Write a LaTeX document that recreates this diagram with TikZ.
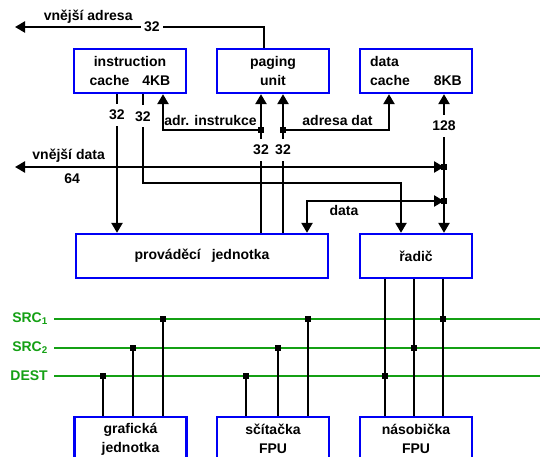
\documentclass[tikz,border=0pt]{standalone}
\usepackage{fontspec}
\setmainfont{Liberation Sans}
\usepackage{tikz}
\usetikzlibrary{arrows.meta,positioning}
\definecolor{busgreen}{RGB}{20,160,20}
\definecolor{boxblue}{RGB}{0,0,245}

\begin{document}
\begin{tikzpicture}[x=1pt,y=-1pt,font=\fontsize{14}{19}\selectfont\bfseries,
        unit/.style={draw=boxblue,line width=2.3pt,fill=white,minimum width=112pt,minimum height=44pt,align=center,inner sep=0pt},
        wire/.style={line width=2.3pt},
        bus/.style={draw=busgreen,line width=2.3pt},
        tip/.style={-{Triangle[length=10pt,width=11pt]}},
        twoway/.style={{Triangle[length=10pt,width=11pt]}-{Triangle[length=10pt,width=11pt]}},
        lbl/.style={fill=white,inner xsep=3pt,inner ysep=6pt},
        buslbl/.style={text=busgreen,inner sep=0pt},
        dot/.style={fill=black,inner sep=0pt,minimum size=5.5pt}]
      \clip (0,0) rectangle (540,457);
      \node[unit] (icache) at (130,71) {instruction\\cache\hspace{13pt}4KB};
      \node[unit] (paging) at (273,71) {paging\\unit};
      \node[unit,align=left] (dcache) at (416,71) {data\\cache\hspace{24pt}8KB};
      \node[unit,minimum width=252pt] (exec) at (202,256) {prováděcí\hspace{11pt}jednotka};
      \node[unit] (ctrl) at (416,256) {řadič};
      \node[unit] (gfx) at (130.5,439) {grafická\\jednotka};
      \node[unit] (fadd) at (273,439) {sčítačka\\FPU};
      \node[unit] (fmul) at (416,439) {násobička\\FPU};
      \coordinate (extA) at (15,27);
      \coordinate (extD) at (15,167);
      \coordinate (rim) at (545,0);
      \coordinate (icA) at ([xshift=-13pt]icache.south);
      \coordinate (icB) at ([xshift=13pt]icache.south);
      \coordinate (dcW) at ([xshift=28pt]dcache.south);
      \node[dot] (jI) at (261,130) {};
      \node[dot] (jD) at (283,130) {};
      \node[dot] (jE) at (444,167) {};
      \node[dot] (jF) at (444,201) {};
      \draw[wire,tip] ([xshift=-9pt]paging.north) |- (extA)
        node[lbl,pos=.725] (wA) {32} node[above=-1pt,pos=.853] (extAlbl) {vnější adresa};
      \draw[wire,tip] (icA) -- (icA |- exec.north) node[lbl,pos=.15] (wI1) {32};
      \draw[wire,tip] (icB) -- node[lbl,pos=.25] (wI2) {32} ++(0,89) -| ([xshift=-15pt]ctrl.north);
      \draw[wire,tip] (jI |- exec.north) -- (jI |- paging.south) node[lbl,pos=.6] (wP1) {32};
      \draw[wire,tip] (jD |- exec.north) -- (jD |- paging.south) node[lbl,pos=.6] (wP2) {32};
      \draw[wire,tip] (jI) -| ([xshift=33pt]icache.south) node[above,pos=.25] (adrI) {adr. instrukce};
      \draw[wire,tip] (jD) -| ([xshift=-27pt]dcache.south) node[above,pos=.25] (adrD) {adresa dat};
      \draw[wire,twoway] (dcW) -- (dcW |- ctrl.north) node[lbl,pos=.23] (w128) {128};
      \draw[wire,twoway] (extD) -- (jE.center)
        node[above,pos=.125] (extDlbl) {vnější data} node[below=2pt,pos=.133] (w64) {64};
      \draw[wire,twoway] ([xshift=105pt]exec.north) |- (jF.center) node[below,pos=.635] (dlbl) {data};
      \coordinate (b1) at (54,319);
      \coordinate (b2) at (54,348);
      \coordinate (b3) at (54,376);
      \draw[bus] (b1) -- (b1 -| rim);
      \draw[bus] (b2) -- (b2 -| rim);
      \draw[bus] (b3) -- (b3 -| rim);
      \node[buslbl,left=6pt of b1] (src1) {SRC\textsubscript{1}};
      \node[buslbl,left=6pt of b2] (src2) {SRC\textsubscript{2}};
      \node[buslbl,left=6pt of b3] (dest) {DEST};
      \node[dot] (g3) at (103,376) {};
      \node[dot] (g2) at (133,348) {};
      \node[dot] (g1) at (163,319) {};
      \node[dot] (a3) at (246,376) {};
      \node[dot] (a2) at (278,348) {};
      \node[dot] (a1) at (308,319) {};
      \node[dot] (m3) at (385,376) {};
      \node[dot] (m2) at (414,348) {};
      \node[dot] (m1) at (443,319) {};
      \draw[wire] (g3.center) -- (g3 |- gfx.north);
      \draw[wire] (g2.center) -- (g2 |- gfx.north);
      \draw[wire] (g1.center) -- (g1 |- gfx.north);
      \draw[wire] (a3.center) -- (a3 |- fadd.north);
      \draw[wire] (a2.center) -- (a2 |- fadd.north);
      \draw[wire] (a1.center) -- (a1 |- fadd.north);
      \draw[wire] (m3 |- ctrl.south) -- (m3 |- fmul.north);
      \draw[wire] (m2 |- ctrl.south) -- (m2 |- fmul.north);
      \draw[wire] (m1 |- ctrl.south) -- (m1 |- fmul.north);
    \end{tikzpicture}
\end{document}
